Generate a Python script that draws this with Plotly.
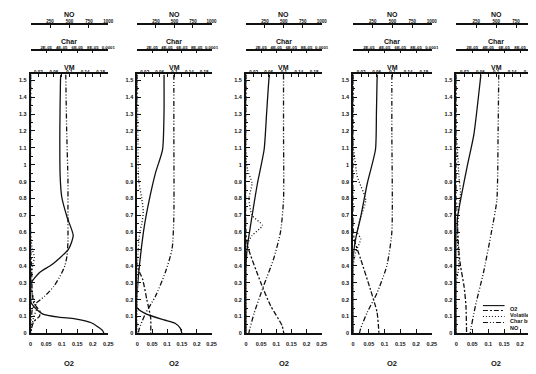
import plotly.graph_objects as go

W, H = 536, 374

# ---------------- data (height vs. quantity, per panel) ----------------
o2_h_1 = [1.535, 1.5, 1.2, 0.93, 0.81, 0.69, 0.58, 0.5, 0.41, 0.36, 0.3, 0.25, 0.18, 0.155, 0.116, 0.096, 0.086, 0.063, 0.018, 0.0]
o2_1   = [0.097, 0.096, 0.094, 0.095, 0.1, 0.117, 0.137, 0.122, 0.07, 0.028, 0.002, 0.0, 0.002, 0.0125, 0.038, 0.09, 0.143, 0.195, 0.231, 0.236]
o2_h_2 = [1.535, 1.49, 1.32, 1.09, 0.95, 0.79, 0.64, 0.48, 0.3, 0.15, 0.116, 0.08, 0.06, 0.03, 0.0]
o2_2   = [0.09, 0.09, 0.09, 0.085, 0.061, 0.04, 0.024, 0.012, 0.002, 0.0, 0.029, 0.09, 0.127, 0.145, 0.15]
o2_h_3 = [1.535, 1.51, 1.3, 1.09, 0.89, 0.65, 0.52, 0.4, 0.0]
o2_3   = [0.078, 0.076, 0.068, 0.06, 0.038, 0.016, 0.005, 0.0, 0.0]
o2_h_4 = [1.535, 1.5, 1.3, 1.09, 0.89, 0.69, 0.56, 0.45, 0.0]
o2_4   = [0.077, 0.076, 0.074, 0.071, 0.045, 0.024, 0.008, 0.0, 0.0]
o2_h_5 = [1.535, 1.5, 1.18, 0.99, 0.79, 0.69, 0.6, 0.0]
o2_5   = [0.077, 0.075, 0.055, 0.034, 0.013, 0.004, 0.0, 0.0]

vm_h_1 = [1.535, 0.5, 0.4, 0.25, 0.18, 0.13, 0.1, 0.07, 0.03, 0.0]
vm_1   = [0.0, 0.0, 0.0024, 0.004, 0.008, 0.024, 0.0224, 0.008, 0.0024, 0.0]
vm_h_2 = [1.535, 0.4, 0.32, 0.2, 0.09, 0.0]
vm_2   = [0.0, 0.0, 0.0144, 0.0256, 0.036, 0.036]
vm_h_3 = [1.535, 0.6, 0.52, 0.3, 0.165, 0.047, 0.0]
vm_3   = [0.0, 0.0, 0.004, 0.0392, 0.0648, 0.0952, 0.1]
vm_h_4 = [1.535, 0.65, 0.56, 0.44, 0.26, 0.125, 0.03, 0.0]
vm_4   = [0.0, 0.0, 0.0024, 0.0192, 0.044, 0.0608, 0.0648, 0.0656]
vm_h_5 = [1.535, 0.8, 0.73, 0.48, 0.4, 0.28, 0.165, 0.008, 0.0]
vm_5   = [0.0, 0.0, 0.0008, 0.0064, 0.0104, 0.0192, 0.024, 0.0256, 0.0256]

char_h_1 = [1.535, 0.6, 0.5, 0.45, 0.4, 0.3, 0.2, 0.15, 0.1, 0.0]
char_1   = [0, 0, 2e-6, 4.8e-6, 2.4e-6, 0, 4e-6, 8e-6, 4e-6, 0]
char_h_2 = [1.535, 1.1, 0.9, 0.8, 0.72, 0.65, 0.6, 0.5, 0.4, 0.0]
char_2   = [0, 8e-7, 2e-6, 6e-6, 8e-6, 6e-6, 3.2e-6, 1.2e-6, 0, 0]
char_h_3 = [1.535, 1.05, 0.97, 0.89, 0.8, 0.7, 0.64, 0.58, 0.52, 0.4, 0.0]
char_3   = [0, 0, 2e-6, 8e-6, 4e-6, 8e-6, 2.16e-5, 8e-6, 1.2e-6, 0, 0]
char_h_4 = [1.535, 1.1, 1.07, 0.93, 0.79, 0.69, 0.6, 0.56, 0.48, 0.4, 0.0]
char_4   = [0, 0, 1.2e-6, 5.2e-6, 1.6e-5, 9.6e-6, 5.2e-6, 9.6e-6, 3.2e-6, 0, 0]
char_h_5 = [1.535, 1.15, 1.1, 0.93, 0.83, 0.75, 0.57, 0.4, 0.3, 0.0]
char_5   = [0, 0, 1.2e-6, 3.2e-6, 5.2e-6, 3.2e-6, 1.2e-6, 3.2e-6, 0, 0]

no_h_1 = [1.535, 1.2, 0.91, 0.7, 0.54, 0.46, 0.4, 0.34, 0.28, 0.22, 0.175, 0.14, 0.1, 0.05, 0.0]
no_1   = [452, 464, 480, 480, 480, 468, 440, 380, 300, 180, 60, 20, 12, 0, 0]
no_h_2 = [1.535, 1.2, 0.69, 0.5, 0.36, 0.22, 0.12, 0.03, 0.0]
no_2   = [492, 492, 492, 468, 376, 244, 112, 28, 12]
no_h_3 = [1.535, 1.2, 0.79, 0.6, 0.44, 0.28, 0.12, 0.006, 0.0]
no_3   = [496, 496, 496, 456, 364, 232, 108, 40, 40]
no_h_4 = [1.535, 1.2, 0.6, 0.4, 0.24, 0.125, 0.03, 0.0]
no_4   = [492, 492, 492, 428, 304, 180, 96, 80]
no_h_5 = [1.535, 1.2, 0.79, 0.6, 0.36, 0.165, 0.008, 0.0]
no_5   = [532, 524, 508, 440, 340, 240, 176, 176]

# tick labels
y_ticks = [round(0.1 * k, 1) for k in range(16)]
y_ticktext = ["0", "0.1", "0.2", "0.3", "0.4", "0.5", "0.6", "0.7", "0.8", "0.9",
              "1", "1.1", "1.2", "1.3", "1.4", "1.5"]
o2_ticks = [0, 0.05, 0.1, 0.15, 0.2, 0.25]
o2_ticktext = ["0", "0.05", "0.1", "0.15", "0.2", "0.25"]
vm_ticks = [0.02 * k for k in range(11)]
vm_ticktext = ["", "0.02", "", "0.06", "", "0.1", "", "0.14", "", "0.18", ""]
char_ticks = [0, 2e-5, 4e-5, 6e-5, 8e-5, 1e-4]
char_ticktext = ["", "2E-05", "4E-05", "6E-05", "8E-05", "0.0001"]
no_ticks = [0, 250, 500, 750, 1000]
no_ticktext = ["", "250", "500", "750", "1000"]
series_names = ["O2", "Volatile", "Char burn", "NO"]
captions = ["1.000", "", "1.000", "1.000", "1.000"]

O2_H = [o2_h_1, o2_h_2, o2_h_3, o2_h_4, o2_h_5]
O2_V = [o2_1, o2_2, o2_3, o2_4, o2_5]
VM_H = [vm_h_1, vm_h_2, vm_h_3, vm_h_4, vm_h_5]
VM_V = [vm_1, vm_2, vm_3, vm_4, vm_5]
CH_H = [char_h_1, char_h_2, char_h_3, char_h_4, char_h_5]
CH_V = [char_1, char_2, char_3, char_4, char_5]
NO_H = [no_h_1, no_h_2, no_h_3, no_h_4, no_h_5]
NO_V = [no_1, no_2, no_3, no_4, no_5]

# ---------------- styling / layout ----------------
FONT = "Liberation Sans"
INK = "#111111"
DASH = {"O2": "solid", "Volatile": "5px,2px,2px,2px", "Char burn": "1px,2px",
        "NO": "5px,2px,1px,2px,1px,2px"}
PANEL_L = [21, 129.5, 240, 349, 454]
PANEL_R = [100, 205, 317, 429, 535]
Y_BOT, Y_TOP = 328, 67
Y_CHAR, Y_NO = 42, 16

def py(v):
    return 1 - v / H

fig = go.Figure()
layout = dict(width=W, height=H, autosize=False,
              margin=dict(l=0, r=0, t=0, b=0, pad=0),
              paper_bgcolor="white", plot_bgcolor="white", showlegend=False,
              annotations=[], shapes=[])

def axname(n):
    return "x" if n == 1 else f"x{n}"

def laxname(n):
    return "xaxis" if n == 1 else f"xaxis{n}"

common = dict(showgrid=False, zeroline=False, showline=True, linecolor=INK,
              linewidth=2, tickcolor=INK, tickwidth=1.2, fixedrange=True, tickangle=0)

for i in range(5):
    b = 4 * i + 1
    yname = "y" if i == 0 else f"y{i+1}"
    ylay = "yaxis" if i == 0 else f"yaxis{i+1}"
    dom = [PANEL_L[i] / W, PANEL_R[i] / W]
    base = axname(b)

    layout[laxname(b)] = dict(common, domain=dom, anchor=yname, range=[0, 0.25],
                              tickmode="array", tickvals=o2_ticks, ticktext=o2_ticktext,
                              ticks="inside", ticklen=4, ticklabelstandoff=4,
                              tickfont=dict(size=5.5, family=FONT, color=INK, weight="bold"))
    layout[laxname(b + 1)] = dict(common, domain=dom, overlaying=base, anchor=yname,
                                  side="top", range=[0, 0.2], tickmode="array",
                                  tickvals=vm_ticks, ticktext=vm_ticktext,
                                  ticks="inside", ticklen=3, ticklabelstandoff=-3,
                                  tickfont=dict(size=4.5, family=FONT, color=INK, weight="bold"))
    layout[laxname(b + 2)] = dict(common, domain=dom, overlaying=base, anchor="free",
                                  position=py(Y_CHAR), side="top", range=[0, 1e-4],
                                  tickmode="array", tickvals=char_ticks, ticktext=char_ticktext,
                                  ticks="inside", ticklen=3, ticklabelstandoff=-2, linewidth=1.5,
                                  tickfont=dict(size=4.3, family=FONT, color=INK, weight="bold"))
    layout[laxname(b + 3)] = dict(common, domain=dom, overlaying=base, anchor="free",
                                  position=py(Y_NO), side="top", range=[0, 1000],
                                  tickmode="array", tickvals=no_ticks, ticktext=no_ticktext,
                                  ticks="inside", ticklen=3, ticklabelstandoff=-2, linewidth=1.5,
                                  tickfont=dict(size=4.5, family=FONT, color=INK, weight="bold"))
    layout[ylay] = dict(common, domain=[py(Y_BOT), py(Y_TOP)], anchor=base,
                        range=[0, 1.535], tickmode="array", tickvals=y_ticks,
                        ticktext=y_ticktext, ticks="inside", ticklen=4,
                        ticklabelstandoff=1,
                        minor=dict(ticks="inside", ticklen=2, dtick=0.05, tick0=0,
                                   tickcolor=INK, showgrid=False),
                        tickfont=dict(size=5.5, family=FONT, color=INK, weight="bold"))

    series = [("O2", O2_V[i], O2_H[i], axname(b)),
              ("Volatile", VM_V[i], VM_H[i], axname(b + 1)),
              ("Char burn", CH_V[i], CH_H[i], axname(b + 2)),
              ("NO", NO_V[i], NO_H[i], axname(b + 3))]
    for name, xv, yv, xa in series:
        fig.add_trace(go.Scatter(x=xv, y=yv, xaxis=xa, yaxis=yname, mode="lines",
                                 name=name, line=dict(color=INK, width=1.3,
                                                      dash=DASH[name], shape="spline",
                                                      smoothing=0.6),
                                 hoverinfo="skip"))

    cx = (PANEL_L[i] + PANEL_R[i]) / 2 / W
    for txt, yy, sz in [("NO", 7, 7), ("Char", 34, 7), ("VM", 60, 7), ("O2", 358, 7.5)]:
        layout["annotations"].append(dict(x=cx, y=py(yy), xref="paper", yref="paper",
                                          text=f"<b>{txt}</b>", showarrow=False,
                                          xanchor="center", yanchor="middle",
                                          font=dict(size=sz, family=FONT, color=INK)))
    if captions[i]:
        layout["annotations"].append(dict(x=cx, y=py(367), xref="paper", yref="paper",
                                          text=captions[i], showarrow=False, xanchor="center",
                                          yanchor="top",
                                          font=dict(size=8, family=FONT, color="#444444")))

# legend (drawn manually to keep it compact, inside the last panel)
leg_line_y = [300, 305, 311, 317]
leg_text_y = [303, 309.5, 316, 322.5]
for k, name in enumerate(series_names):
    layout["shapes"].append(dict(type="line", xref="paper", yref="paper",
                                 x0=481 / W, x1=503 / W, y0=py(leg_line_y[k]), y1=py(leg_line_y[k]),
                                 line=dict(color=INK, width=1.1, dash=DASH[name])))
    layout["annotations"].append(dict(x=507 / W, y=py(leg_text_y[k]), xref="paper", yref="paper",
                                      text=f"<b>{name}</b>", showarrow=False, xanchor="left",
                                      yanchor="middle", align="left",
                                      font=dict(size=5.5, family=FONT, color=INK)))

fig.update_layout(**layout)
fig.write_html("out.html")
